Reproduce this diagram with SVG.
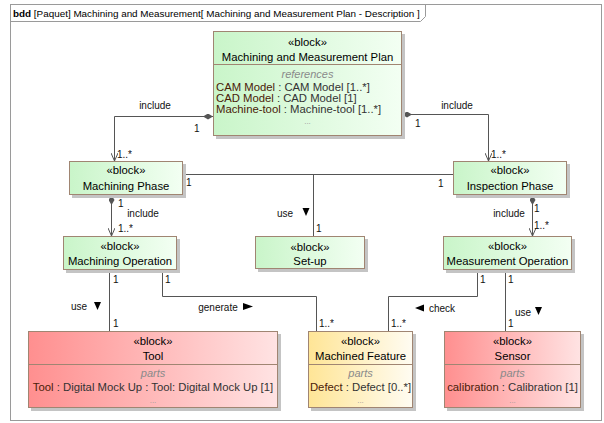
<svg xmlns="http://www.w3.org/2000/svg" width="604" height="423" viewBox="0 0 604 423">
  <defs>
    <linearGradient id="gGreen" x1="0" y1="0" x2="1" y2="0">
      <stop offset="0" stop-color="#c9f5c9"/>
      <stop offset="1" stop-color="#f3fff3"/>
    </linearGradient>
    <linearGradient id="gRed" x1="0" y1="0" x2="1" y2="0">
      <stop offset="0" stop-color="#ff8f8f"/>
      <stop offset="1" stop-color="#ffe3e3"/>
    </linearGradient>
    <linearGradient id="gYellow" x1="0" y1="0" x2="1" y2="0">
      <stop offset="0" stop-color="#ffe596"/>
      <stop offset="1" stop-color="#fffcf2"/>
    </linearGradient>
    <marker id="diamond" viewBox="0 0 10 6" refX="0" refY="3" markerWidth="10" markerHeight="6" markerUnits="userSpaceOnUse" orient="auto">
      <path d="M0,3 L5,0 L10,3 L5,6 Z" fill="#555555"/>
    </marker>
    <marker id="open" viewBox="0 0 8 7" refX="8" refY="3.5" markerWidth="8" markerHeight="7" markerUnits="userSpaceOnUse" orient="auto">
      <path d="M0,0 L8,3.5 L0,7" fill="none" stroke="#555555" stroke-width="1"/>
    </marker>
  </defs>
  <style>
    text { font-family: "Liberation Sans", Arial, sans-serif; fill: #000; }
    .t { font-size: 11.3px; text-anchor: middle; }
    .comp { font-size: 11px; font-style: italic; fill: #8a8a8a; text-anchor: middle; }
    .dots { font-size: 8px; fill: #999; text-anchor: middle; }
    .prop { font-size: 11.3px; fill: #333; }
    .pn { fill: #4a2008; }
    .lbl { font-size: 10px; fill: #111; }
    .shadow { fill: #c4c4c4; }
    .box { stroke: #a08572; stroke-width: 1; }
    .sep { stroke: #a08572; stroke-width: 1; fill: none; }
    .wire { fill: none; stroke: #555555; stroke-width: 1; }
    .dir { fill: #000; }
  </style>

  <rect x="0" y="0" width="604" height="423" fill="#ffffff"/>

  <!-- diagram frame -->
  <g id="frame">
    <rect x="10.5" y="4.5" width="591" height="416" fill="#ffffff" stroke="#9a9a9a"/>
    <path d="M10.5,21.5 H420.5 L425.5,16.5 V4.5" fill="none" stroke="#9a9a9a"/>
    <text x="13" y="17" style="font-size:9.9px"><tspan font-weight="bold">bdd</tspan> [Paquet] Machining and Measurement[ Machining and Measurement Plan - Description ]</text>
  </g>

  <!-- connectors -->
  <g id="connectors">
    <path class="wire" d="M213,116.5 H114.5 V161" marker-start="url(#diamond)" marker-end="url(#open)"/>
    <path class="wire" d="M402,114.5 H488.5 V161" marker-start="url(#diamond)" marker-end="url(#open)"/>
    <path class="wire" d="M183,174.5 H453"/>
    <path class="wire" d="M313.5,174.5 V236"/>
    <path class="wire" d="M111.5,195 V236" marker-start="url(#diamond)" marker-end="url(#open)"/>
    <path class="wire" d="M532.5,195 V236" marker-start="url(#diamond)" marker-end="url(#open)"/>
    <path class="wire" d="M109.5,270 V331"/>
    <path class="wire" d="M162.5,270 V296.5 H316.5 V331"/>
    <path class="wire" d="M477.5,270 V296.5 H388.5 V331"/>
    <path class="wire" d="M505.5,270 V331"/>

    <!-- labels and multiplicities -->
    <text class="lbl" x="155" y="109" text-anchor="middle">include</text>
    <text class="lbl" x="194" y="132">1</text>
    <text class="lbl" x="117" y="158">1..*</text>

    <text class="lbl" x="457" y="109" text-anchor="middle">include</text>
    <text class="lbl" x="415" y="127">1</text>
    <text class="lbl" x="491" y="158">1..*</text>

    <text class="lbl" x="186" y="186">1</text>
    <text class="lbl" x="438" y="187">1</text>
    <text class="lbl" x="285" y="217" text-anchor="middle">use</text>
    <polygon class="dir" points="302.5,208 309.5,208 306,216"/>
    <text class="lbl" x="316" y="232">1</text>

    <text class="lbl" x="118" y="207">1</text>
    <text class="lbl" x="143" y="217" text-anchor="middle">include</text>
    <text class="lbl" x="118" y="232">1..*</text>

    <text class="lbl" x="534" y="212">1</text>
    <text class="lbl" x="509" y="217" text-anchor="middle">include</text>
    <text class="lbl" x="534" y="229">1..*</text>

    <text class="lbl" x="113" y="283">1</text>
    <text class="lbl" x="79" y="310" text-anchor="middle">use</text>
    <polygon class="dir" points="94,302 101,302 97.5,310"/>
    <text class="lbl" x="113" y="327">1</text>

    <text class="lbl" x="165" y="283">1</text>
    <text class="lbl" x="218" y="311" text-anchor="middle">generate</text>
    <polygon class="dir" points="243,303 253,306.5 243,310"/>
    <text class="lbl" x="319" y="327">1..*</text>

    <text class="lbl" x="480" y="283">1</text>
    <polygon class="dir" points="415,308 424,304.5 424,311.5"/>
    <text class="lbl" x="429" y="312">check</text>
    <text class="lbl" x="391" y="327">1..*</text>

    <text class="lbl" x="508" y="283">1</text>
    <text class="lbl" x="523" y="316" text-anchor="middle">use</text>
    <polygon class="dir" points="535,307 542,307 538.5,315"/>
    <text class="lbl" x="508" y="327">1</text>
  </g>

  <!-- blocks -->
  <g id="plan">
    <rect class="shadow" x="216" y="34" width="189" height="105"/>
    <rect class="box" x="213.5" y="31.5" width="188" height="104" fill="url(#gGreen)"/>
    <line class="sep" x1="213.5" y1="64.5" x2="401.5" y2="64.5"/>
    <text class="t" x="307.5" y="46">«block»</text>
    <text class="t" x="307.5" y="61">Machining and Measurement Plan</text>
    <text class="comp" x="307.5" y="78">references</text>
    <text class="prop" x="216" y="91"><tspan class="pn">CAM Model</tspan> : CAM Model [1..*]</text>
    <text class="prop" x="216" y="101.5"><tspan class="pn">CAD Model</tspan> : CAD Model [1]</text>
    <text class="prop" x="216" y="112.5"><tspan class="pn">Machine-tool</tspan> : Machine-tool [1..*]</text>
    <text class="dots" x="307.5" y="124">...</text>
  </g>

  <g id="machining-phase">
    <rect class="shadow" x="72" y="164" width="114" height="34"/>
    <rect class="box" x="69.5" y="161.5" width="113" height="33" fill="url(#gGreen)"/>
    <text class="t" x="126" y="174">«block»</text>
    <text class="t" x="126" y="190">Machining Phase</text>
  </g>

  <g id="inspection-phase">
    <rect class="shadow" x="456" y="164" width="114" height="34"/>
    <rect class="box" x="453.5" y="161.5" width="113" height="33" fill="url(#gGreen)"/>
    <text class="t" x="510" y="174">«block»</text>
    <text class="t" x="510" y="190">Inspection Phase</text>
  </g>

  <g id="set-up">
    <rect class="shadow" x="258" y="239" width="110" height="33"/>
    <rect class="box" x="255.5" y="236.5" width="109" height="32" fill="url(#gGreen)"/>
    <text class="t" x="310" y="251">«block»</text>
    <text class="t" x="310" y="265">Set-up</text>
  </g>

  <g id="machining-operation">
    <rect class="shadow" x="66" y="239" width="114" height="34"/>
    <rect class="box" x="63.5" y="236.5" width="113" height="33" fill="url(#gGreen)"/>
    <text class="t" x="120" y="250">«block»</text>
    <text class="t" x="120" y="265">Machining Operation</text>
  </g>

  <g id="measurement-operation">
    <rect class="shadow" x="446" y="239" width="129" height="34"/>
    <rect class="box" x="443.5" y="236.5" width="128" height="33" fill="url(#gGreen)"/>
    <text class="t" x="507.5" y="250">«block»</text>
    <text class="t" x="507.5" y="265">Measurement Operation</text>
  </g>

  <g id="tool">
    <rect class="shadow" x="31" y="334" width="250" height="77"/>
    <rect class="box" x="28.5" y="331.5" width="249" height="76" fill="url(#gRed)"/>
    <line class="sep" x1="28.5" y1="364.5" x2="277.5" y2="364.5"/>
    <text class="t" x="153" y="345">«block»</text>
    <text class="t" x="153" y="360">Tool</text>
    <text class="comp" x="153" y="377">parts</text>
    <text class="prop" x="153" y="391" text-anchor="middle"><tspan class="pn">Tool</tspan> : Digital Mock Up : Tool: Digital Mock Up [1]</text>
    <text class="dots" x="153" y="403">...</text>
  </g>

  <g id="machined-feature">
    <rect class="shadow" x="311" y="334" width="105" height="77"/>
    <rect class="box" x="308.5" y="331.5" width="104" height="76" fill="url(#gYellow)"/>
    <line class="sep" x1="308.5" y1="364.5" x2="412.5" y2="364.5"/>
    <text class="t" x="360.5" y="345">«block»</text>
    <text class="t" x="360.5" y="360">Machined Feature</text>
    <text class="comp" x="360.5" y="377">parts</text>
    <text class="prop" x="360.5" y="391" text-anchor="middle"><tspan class="pn">Defect</tspan> : Defect [0..*]</text>
    <text class="dots" x="360.5" y="403">...</text>
  </g>

  <g id="sensor">
    <rect class="shadow" x="447" y="334" width="137" height="77"/>
    <rect class="box" x="444.5" y="331.5" width="136" height="76" fill="url(#gRed)"/>
    <line class="sep" x1="444.5" y1="364.5" x2="580.5" y2="364.5"/>
    <text class="t" x="512.5" y="345">«block»</text>
    <text class="t" x="512.5" y="360">Sensor</text>
    <text class="comp" x="512.5" y="377">parts</text>
    <text class="prop" x="512.5" y="391" text-anchor="middle"><tspan class="pn">calibration</tspan> : Calibration [1]</text>
    <text class="dots" x="512.5" y="403">...</text>
  </g>
</svg>
